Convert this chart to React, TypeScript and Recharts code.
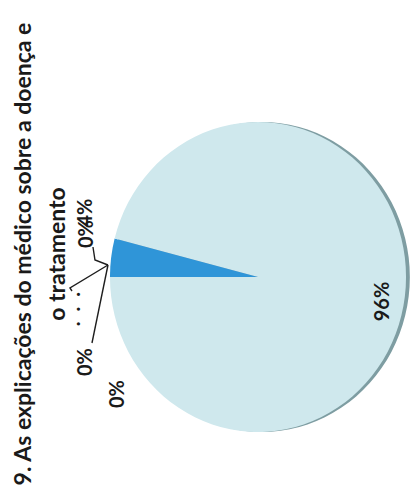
import React from "react";
import { PieChart, Pie, Cell } from "recharts";

// ---------- data ----------
const categories = ["Categoria 1", "Categoria 2", "Categoria 3", "Categoria 4", "Categoria 5", "Categoria 6"];
const shares = [0, 4, 96, 0, 0, 0];
const labelOverrides: (string | null)[] = [null, null, null, "...", null, null];
const titleLines = ["9. As explicações do médico sobre a doença e", "o tratamento"];

const data = categories.map((name, i) => ({ name, value: shares[i] }));

// ---------- layout / style ----------
const W = 499; // unrotated chart width
const H = 413; // unrotated chart height
const CX = 222;
const CY = 258;
const R = 155;
const TILT = 0.955;
const DEPTH = 4;
const FONT = "Lato, 'Open Sans', sans-serif";

const faceColors = ["#2f95d8", "#2f95d8", "#cfe8ed", "#2f95d8", "#2f95d8", "#2f95d8"];
const sideColors = ["#2373ad", "#2373ad", "#7e9da2", "#2373ad", "#2373ad", "#2373ad"];

// text centre offset from the slice rim point + optional leader (relative to rim point)
const placements: { dx: number; dy: number; spacing?: number; leader?: number[][] }[] = [
  { dx: 43, dy: -25, leader: [[30, -17], [17, -15], [12, -2]] },
  { dx: 45, dy: -27 },
  { dx: -5, dy: -24 },
  { dx: -27, dy: -38, spacing: 10, leader: [[-14, -38], [-11, -40], [12, -2]] },
  { dx: -85, dy: -26, leader: [[-66, -18], [12, -2]] },
  { dx: -117, dy: 6 },
];

const RAD = Math.PI / 180;

const renderLabel = (props: any) => {
  const { cx, cy, outerRadius, midAngle, index, percent } = props;
  const rx = cx + outerRadius * Math.cos(-midAngle * RAD);
  const ry = cy + outerRadius * TILT * Math.sin(-midAngle * RAD);
  const p = placements[index];
  const text = labelOverrides[index] ?? `${Math.round((percent || 0) * 100)}%`;
  return (
    <g key={`lbl-${index}`}>
      {p.leader && (
        <polyline
          points={p.leader.map(([a, b]) => `${rx + a},${ry + b}`).join(" ")}
          fill="none"
          stroke="#1e1e1e"
          strokeWidth={1.4}
        />
      )}
      <text
        x={rx + p.dx}
        y={ry + p.dy}
        textAnchor="middle"
        dominantBaseline="central"
        fontFamily={FONT}
        fontWeight={700}
        fontSize={20}
        letterSpacing={p.spacing ?? 0}
        fill="#1a1a1a"
      >
        {text}
      </text>
    </g>
  );
};

const css = `
.tilt-pie .recharts-pie-sector {
  transform-box: view-box;
  transform-origin: ${CX}px ${CY}px;
  transform: scaleY(${TILT});
}
`;

export default function App() {
  return (
    <div
      style={{
        position: "absolute",
        left: 0,
        top: 0,
        width: 413,
        height: 499,
        overflow: "hidden",
        background: "#ffffff",
      }}
    >
      <style>{css}</style>
      <div
        style={{
          position: "absolute",
          left: 0,
          top: 0,
          width: W,
          height: H,
          transformOrigin: "0 0",
          transform: `translateY(${W}px) rotate(-90deg)`,
        }}
      >
        <PieChart width={W} height={H} margin={{ top: 0, right: 0, bottom: 0, left: 0 }}>
          <Pie
            className="tilt-pie"
            data={data}
            dataKey="value"
            nameKey="name"
            cx={CX}
            cy={CY + DEPTH}
            outerRadius={R}
            startAngle={90}
            endAngle={-270}
            stroke="none"
            isAnimationActive={false}
            label={false}
            labelLine={false}
          >
            {data.map((d, i) => (
              <Cell key={`side-${i}`} fill={sideColors[i]} />
            ))}
          </Pie>
          <Pie
            className="tilt-pie"
            data={data}
            dataKey="value"
            nameKey="name"
            cx={CX}
            cy={CY}
            outerRadius={R}
            startAngle={90}
            endAngle={-270}
            stroke="none"
            isAnimationActive={false}
            label={renderLabel}
            labelLine={false}
          >
            {data.map((d, i) => (
              <Cell key={`face-${i}`} fill={faceColors[i]} />
            ))}
          </Pie>
        </PieChart>
        <svg
          width={W}
          height={H}
          style={{ position: "absolute", left: 0, top: 0, pointerEvents: "none" }}
        >
          {titleLines.map((line, i) => (
            <text
              key={i}
              x={245}
              y={31 + i * 34}
              textAnchor="middle"
              fontFamily={FONT}
              fontWeight={700}
              fontSize={23}
              fill="#1a1a1a"
            >
              {line}
            </text>
          ))}
        </svg>
      </div>
    </div>
  );
}
